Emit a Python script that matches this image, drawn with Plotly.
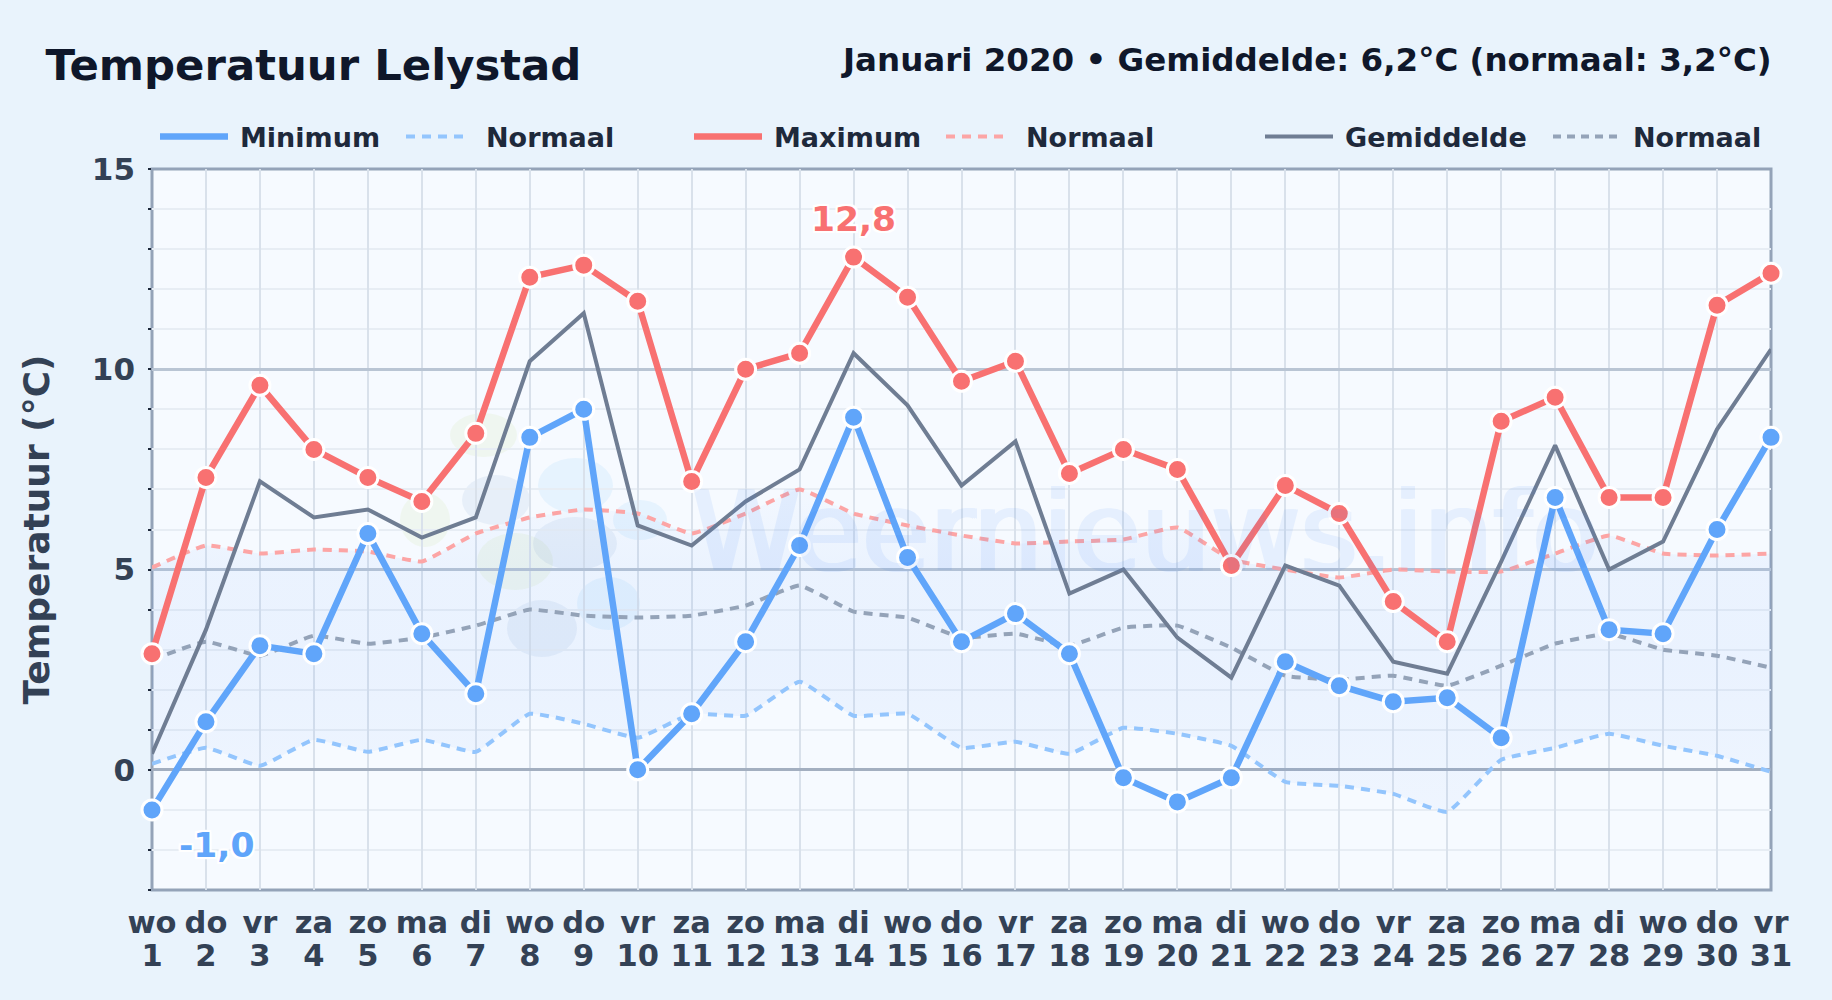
import plotly.graph_objects as go

days = list(range(1, 32))
weekdays = ["wo","do","vr","za","zo","ma","di","wo","do","vr","za","zo","ma","di","wo","do","vr","za","zo","ma","di","wo","do","vr","za","zo","ma","di","wo","do","vr"]
t_min = [-1.0,1.2,3.1,2.9,5.9,3.4,1.9,8.3,9.0,0.0,1.4,3.2,5.6,8.8,5.3,3.2,3.9,2.9,-0.2,-0.8,-0.2,2.7,2.1,1.7,1.8,0.8,6.8,3.5,3.4,6.0,8.3]
t_max = [2.9,7.3,9.6,8.0,7.3,6.7,8.4,12.3,12.6,11.7,7.2,10.0,10.4,12.8,11.8,9.7,10.2,7.4,8.0,7.5,5.1,7.1,6.4,4.2,3.2,8.7,9.3,6.8,6.8,11.6,12.4]
t_mean = [0.4,3.5,7.2,6.3,6.5,5.8,6.3,10.2,11.4,6.1,5.6,6.7,7.5,10.4,9.1,7.1,8.2,4.4,5.0,3.3,2.3,5.1,4.6,2.7,2.4,5.2,8.1,5.0,5.7,8.5,10.5]
n_min = [0.15,0.55,0.1,0.75,0.45,0.75,0.45,1.4,1.15,0.8,1.4,1.35,2.2,1.35,1.4,0.55,0.7,0.4,1.05,0.9,0.6,-0.3,-0.4,-0.6,-1.05,0.25,0.55,0.9,0.6,0.35,-0.05]
n_max = [5.05,5.6,5.4,5.5,5.45,5.2,5.9,6.3,6.5,6.4,5.9,6.4,7.0,6.4,6.1,5.85,5.65,5.7,5.75,6.05,5.25,5.0,4.8,5.0,4.95,4.95,5.4,5.85,5.4,5.35,5.4]
n_mean = [2.75,3.2,2.85,3.35,3.15,3.3,3.6,4.0,3.85,3.8,3.85,4.1,4.6,3.95,3.8,3.3,3.4,3.1,3.55,3.6,3.05,2.35,2.25,2.35,2.1,2.6,3.15,3.4,3.0,2.85,2.55]

W, H = 1832, 1000
L, R, T, B = 152, 1771, 169, 890
PAGE = "#e9f3fc"
C_MIN, C_MAX, C_MEAN = "#60a5fa", "#f87171", "#6f7d93"
C_NMIN, C_NMAX, C_NMEAN = "#93c5fd", "#fca5a5", "#94a3b8"
FONT = "DejaVu Sans"
DASH = "9px,7px"

def px(x): return (x - L) / (R - L)
def py(y): return (B - y) / (B - T)

fig = go.Figure()

# normals (band between normal min and normal max)
fig.add_trace(go.Scatter(x=days, y=n_min, mode="lines", showlegend=False, hoverinfo="skip",
    line=dict(color=C_NMIN, width=4, dash=DASH, shape="spline", smoothing=0.35)))
fig.add_trace(go.Scatter(x=days, y=n_max, mode="lines", showlegend=False, hoverinfo="skip", fill="tonexty",
    fillgradient=dict(type="vertical", colorscale=[
        [0.0, "rgba(59,130,246,0.04)"], [0.45, "rgba(59,130,246,0.065)"], [0.75, "rgba(59,130,246,0.06)"], [1.0, "rgba(59,130,246,0.02)"]]),
    line=dict(color=C_NMAX, width=4, dash=DASH, shape="spline", smoothing=0.35)))
fig.add_trace(go.Scatter(x=days, y=n_mean, mode="lines", showlegend=False, hoverinfo="skip",
    line=dict(color=C_NMEAN, width=4, dash=DASH, shape="spline", smoothing=0.35)))

# observed
fig.add_trace(go.Scatter(x=days, y=t_mean, mode="lines", showlegend=False,
    line=dict(color=C_MEAN, width=4), cliponaxis=False))
marker_line = dict(color="white", width=3)
fig.add_trace(go.Scatter(x=days, y=t_min, mode="lines+markers", showlegend=False,
    line=dict(color=C_MIN, width=6.5), cliponaxis=False,
    marker=dict(size=20, color=C_MIN, line=marker_line)))
fig.add_trace(go.Scatter(x=days, y=t_max, mode="lines+markers", showlegend=False,
    line=dict(color=C_MAX, width=6.5), cliponaxis=False,
    marker=dict(size=20, color=C_MAX, line=marker_line)))

# legend: one legend per entry, so that each can sit at its own place
legend_names = ["Minimum", "Normaal", "Maximum", "Normaal", "Gemiddelde", "Normaal"]
legend_colors = [C_MIN, C_NMIN, C_MAX, C_NMAX, C_MEAN, C_NMEAN]
legend_widths = [6.5, 4, 6.5, 4, 4, 4]
legend_starts = [160, 406, 694, 946, 1265, 1553]
legend_dashes = ["68px,200px", "9px,7px,9px,7px,9px,7px,9px,200px", "68px,200px",
                 "9px,7px,9px,7px,9px,7px,9px,200px", "68px,200px", "8px,6px,8px,6px,8px,6px,8px,6px,8px,200px"]
layout_legends = {}
for i, (n, c, w, s, d) in enumerate(zip(legend_names, legend_colors, legend_widths, legend_starts, legend_dashes)):
    key = "legend" if i == 0 else f"legend{i+1}"
    fig.add_trace(go.Scatter(x=[None], y=[None], mode="lines", name=n, legend=key,
                             line=dict(color=c, width=w, dash=d), showlegend=True))
    layout_legends[key] = dict(x=px(s - 5), y=py(137), xanchor="left", yanchor="middle",
                               bgcolor="rgba(0,0,0,0)", itemwidth=75, borderwidth=0,
                               font=dict(family=FONT, size=27, color="#1e293b", weight="bold"))

# second row of day labels
fig.add_trace(go.Scatter(x=days, y=[None] * len(days), xaxis="x2", mode="lines", showlegend=False, hoverinfo="skip"))

halo = ("-2px -2px 1px #fff, 2px -2px 1px #fff, -2px 2px 1px #fff, 2px 2px 1px #fff, "
        "0 -2px 1px #fff, 0 2px 1px #fff, -2px 0 1px #fff, 2px 0 1px #fff")
annotations = [
    dict(x=days[t_max.index(max(t_max))], y=max(t_max), text=f"{max(t_max):.1f}".replace(".", ","),
         xref="x", yref="y", showarrow=False, yshift=38,
         font=dict(family=FONT, size=34.5, color=C_MAX, weight="bold", shadow=halo)),
    dict(x=days[t_min.index(min(t_min))], y=min(t_min), text=f"{min(t_min):.1f}".replace(".", ","),
         xref="x", yref="y", showarrow=False, xshift=64, yshift=-35,
         font=dict(family=FONT, size=34.5, color=C_MIN, weight="bold", shadow=halo)),
    dict(x=px(L + 570 + 423), y=py(532), xref="paper", yref="paper", text="Weernieuws.info", showarrow=False,
         opacity=0.085,
         font=dict(family=FONT, size=110, color="#3b82f6", shadow="2px 0 0 #3b82f6, -2px 0 0 #3b82f6")),
    dict(x=px(R + 2.5), y=py(60), xref="paper", yref="paper", xanchor="right", yanchor="middle", showarrow=False,
         text="Januari 2020 \u2022 Gemiddelde: 6,2\u00b0C (normaal: 3,2\u00b0C)",
         font=dict(family=FONT, size=32.5, color="#0f172a", weight="bold")),
]

# faint watermark logo
blobs = [
    (450,413,517,457,"#a3c93a"),(400,493,450,547,"#a3c93a"),(477,533,553,590,"#a3c93a"),
    (462,475,530,525,"#3a6db0"),(507,600,577,657,"#3a6db0"),(533,517,617,570,"#3a6db0"),
    (538,458,613,513,"#38a0f0"),(577,577,640,630,"#38a0f0"),(613,500,667,540,"#38a0f0"),
]
shapes = [dict(type="circle", xref="paper", yref="paper", x0=px(a), x1=px(c), y0=py(b), y1=py(d),
               fillcolor=col, opacity=0.08, line_width=0, layer="below") for a, b, c, d, col in blobs]
shapes.append(dict(type="rect", xref="paper", yref="paper", x0=0, x1=1, y0=0, y1=1,
                   line=dict(color="#94a3b8", width=3), fillcolor="rgba(0,0,0,0)", layer="between"))

fig.update_layout(
    **layout_legends,
    width=W, height=H,
    margin=dict(l=L, r=W - R, t=T, b=H - B, autoexpand=False),
    paper_bgcolor=PAGE, plot_bgcolor="#f6faff",
    title=dict(text="Temperatuur Lelystad", x=39 * 1.168 / W, xanchor="left", xref="container",
               y=1 - 65 / H, yanchor="middle",
               font=dict(family=FONT, size=43.4, color="#0f172a", weight="bold")),
    annotations=annotations, shapes=shapes,
    xaxis=dict(range=[1, 31], tickmode="array", tickvals=days, ticktext=weekdays,
               showgrid=True, gridcolor="#d9e1eb", gridwidth=2, zeroline=False, showline=False,
               ticks="", ticklabelstandoff=11, layer="below traces",
               tickfont=dict(family=FONT, size=30.5, color="#334155", weight="bold")),
    xaxis2=dict(range=[1, 31], overlaying="x", side="bottom", anchor="y", tickmode="array", tickvals=days,
                ticktext=[str(d) for d in days], showgrid=False, zeroline=False, showline=False,
                ticks="", ticklabelstandoff=44, layer="below traces",
                tickfont=dict(family=FONT, size=30.5, color="#334155", weight="bold")),
    yaxis=dict(range=[-3, 15], tickmode="array", tickvals=[0, 5, 10, 15], showgrid=True,
               gridcolor="#b9c5d4", gridwidth=2.5, zeroline=True, zerolinecolor="#a3afc0", zerolinewidth=3,
               showline=False, layer="below traces",
               ticks="", ticklabelstandoff=16,
               tickfont=dict(family=FONT, size=31, color="#334155", weight="bold"),
               title=dict(text="Temperatuur (\u00b0C)", standoff=31,
                          font=dict(family=FONT, size=36, color="#334155", weight="bold")),
               minor=dict(tickmode="linear", tick0=0, dtick=1, showgrid=True, gridcolor="#e7edf4", gridwidth=2,
                          ticks="outside", ticklen=3, tickcolor="#1e293b", tickwidth=1.5)),
)

fig.write_html("out.html", config=dict(displayModeBar=False),
               post_script=f'document.body.style.margin="0";document.body.style.background="{PAGE}";')
